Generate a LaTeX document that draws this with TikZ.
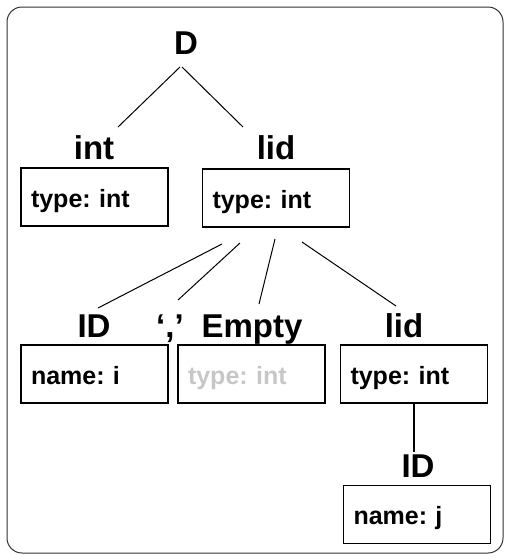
\documentclass[tikz,border=0pt]{standalone}
\usepackage{fontspec}
\setmainfont{Liberation Sans}
\frenchspacing
\begin{document}
\begin{tikzpicture}[x=1pt,y=-1pt,
  lbl/.style={font=\fontsize{33}{33}\selectfont\bfseries, inner sep=0pt, anchor=base},
  box/.style={draw, line width=1.5pt, minimum width=147pt, minimum height=58pt,
    inner xsep=10pt, inner ysep=0pt, text width=127pt, align=left,
    text height=25pt, text depth=5pt, font=\fontsize{25}{25}\selectfont\bfseries},
  edge/.style={line width=1pt},
  frame/.style={draw=black!80, line width=1pt, rounded corners=15pt}]
\useasboundingbox (0,0) rectangle (505,560);
\draw[frame] (7,7) rectangle (503,553);
% labels
\node[lbl] (D) at (186,54) {D};
\node[lbl] (int) at (94,159) {int};
\node[lbl] (lid) at (276,159) {lid};
\node[lbl] (ID) at (94,337) {ID};
\node[lbl] (comma) at (170,337) {‘,’};
\node[lbl] (empty) at (252,337) {Empty};
\node[lbl] (lidb) at (404,337) {lid};
\node[lbl] (IDj) at (418,477) {ID};
% boxes
\node[box] (intbox) at (94.5,197) {type: int};
\node[box] (lidbox) at (276,198) {type: int};
\node[box] (idbox) at (94.5,374) {name: i};
\node[box, text=black!22] (emptybox) at (251.5,374) {type: int};
\node[box] (lid2box) at (414,374) {type: int};
\node[box] (idjbox) at (417,514.5) {name: j};
% connector ends
\coordinate (d1) at (180,67);
\coordinate (d2) at (182,67);
\coordinate (int1) at (118,127);
\coordinate (lid1) at (243,127);
\coordinate (l1) at (222,244);
\coordinate (l2) at (240,243);
\coordinate (l3) at (275,239);
\coordinate (l4) at (302,242);
\coordinate (id1) at (98,308);
\coordinate (c1) at (178,300);
\coordinate (e1) at (259,304);
\coordinate (lb1) at (396,306);
\coordinate (v1) at (414,403);
\coordinate (v2) at (414,452);
\draw[edge] (d1) -- (int1);
\draw[edge] (d2) -- (lid1);
\draw[edge] (l1) -- (id1);
\draw[edge] (l2) -- (c1);
\draw[edge] (l3) -- (e1);
\draw[edge] (l4) -- (lb1);
\draw[line width=2pt] (v1) -- (v2);
\end{tikzpicture}
\end{document}
